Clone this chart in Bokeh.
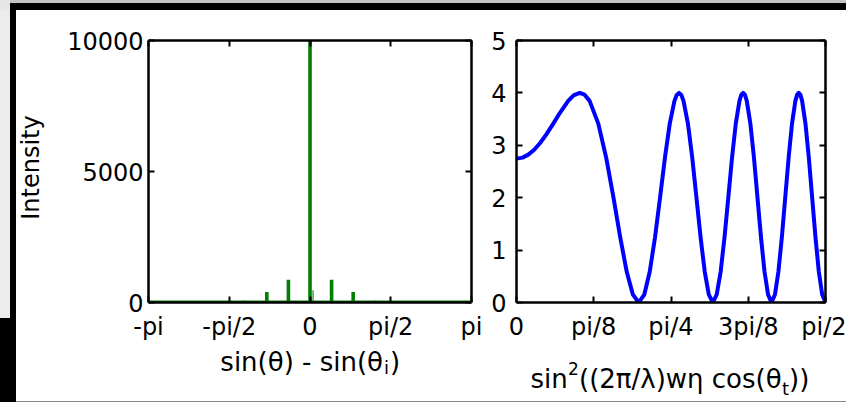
import numpy as np
from bokeh.plotting import figure
from bokeh.models import Range1d, FixedTicker, LinearAxis, Spacer
from bokeh.layouts import row, column
from bokeh.core.properties import value
from bokeh.embed import file_html
from bokeh.resources import INLINE

# ---------------- data: left panel (intensity peaks) ----------------
peak_x = [-1.27, -0.84, -0.42, 0.0, 0.42, 0.84, 1.27]
peak_h = [70, 400, 870, 10000, 870, 400, 70]
shoulder_x = [0.06]
shoulder_h = [470]

left_xticks = [-np.pi, -np.pi / 2, 0.0, np.pi / 2, np.pi]
left_xlabels = ["-pi", "-pi/2", "0", "pi/2", "pi"]
left_yticks = [0, 5000, 10000]

# ---------------- data: right panel (curve) ----------------
curve_x = [0.0, 0.0307, 0.06, 0.09, 0.12, 0.15, 0.1870, 0.22, 0.2629, 0.29,
           0.3217, 0.345, 0.3716, 0.4158, 0.4559, 0.4930, 0.5277, 0.5604, 0.5915, 0.6212,
           0.6498, 0.6773, 0.7039, 0.7297, 0.7547, 0.7791, 0.8030, 0.8146, 0.8262,
           0.8376, 0.8490, 0.8714, 0.8933, 0.9149, 0.9361, 0.9570, 0.9776, 0.9978,
           1.0179, 1.0377, 1.0572, 1.0766, 1.0957, 1.1147, 1.1335, 1.1428, 1.1521,
           1.1614, 1.1706, 1.1889, 1.2071, 1.2251, 1.2431, 1.2609, 1.2787, 1.2963,
           1.3139, 1.3313, 1.3487, 1.3661, 1.3834, 1.4006, 1.4177, 1.4263, 1.4348,
           1.4434, 1.4519, 1.4690, 1.4860, 1.5030, 1.5200, 1.5369, 1.5539, 1.5708]
curve_y = [2.746, 2.765, 2.822, 2.916, 3.044, 3.198, 3.414, 3.616, 3.848, 3.951,
           4.0, 3.969, 3.848, 3.414, 2.765, 2.0, 1.235, 0.586, 0.152, 0.0,
           0.152, 0.586, 1.235, 2.0, 2.765, 3.414, 3.848, 3.962, 4.0,
           3.962, 3.848, 3.414, 2.765, 2.0, 1.235, 0.586, 0.152, 0.0,
           0.152, 0.586, 1.235, 2.0, 2.765, 3.414, 3.848, 3.962, 4.0,
           3.962, 3.848, 3.414, 2.765, 2.0, 1.235, 0.586, 0.152, 0.0,
           0.152, 0.586, 1.235, 2.0, 2.765, 3.414, 3.848, 3.962, 4.0,
           3.962, 3.848, 3.414, 2.765, 2.0, 1.235, 0.586, 0.152, 0.0]

right_xticks = [0.0, np.pi / 8, np.pi / 4, 3 * np.pi / 8, np.pi / 2]
right_xlabels = ["0", "pi/8", "pi/4", "3pi/8", "pi/2"]
right_yticks = [0, 1, 2, 3, 4, 5]

y_title = "Intensity"

FONT = "DejaVu Sans"
FS = "24px"
TS = "26px"
GREEN = "#008000"
BLUE = "#0000ff"
PLOT_H = 332
LF_H = 392 - 2 - PLOT_H


def style_axis(ax, ticks, labels=None, show=True, standoff=10):
    ax.ticker = FixedTicker(ticks=list(ticks))
    if labels is not None:
        ax.major_label_overrides = {float(t): l for t, l in zip(ticks, labels)}
    ax.axis_line_color = "black"
    ax.axis_line_width = 2.5
    ax.major_tick_line_color = "black"
    ax.major_tick_line_width = 2
    ax.major_tick_in = 6
    ax.major_tick_out = 0
    ax.minor_tick_line_color = None
    ax.major_label_text_font = FONT
    if show:
        ax.major_label_text_color = "black"
        ax.major_label_text_font_size = FS
        ax.major_label_standoff = standoff
    else:
        ax.major_label_text_color = None
        ax.major_label_text_font_size = "1px"
        ax.major_label_standoff = 0


def make_fig(frame_w, border_l, border_r, xr, yr, xticks, xlabels, yticks, ystandoff):
    p = figure(frame_width=frame_w, frame_height=262,
               x_range=Range1d(*xr), y_range=Range1d(*yr),
               min_border_left=border_l, min_border_right=border_r,
               min_border_top=30, min_border_bottom=PLOT_H - 30 - 262,
               output_backend="svg", toolbar_location=None, title=None,
               background_fill_color="white", border_fill_color="white")
    p.grid.visible = False
    p.outline_line_color = None
    style_axis(p.xaxis[0], xticks, xlabels, True, 10)
    style_axis(p.yaxis[0], yticks, None, True, ystandoff)
    top = LinearAxis()
    style_axis(top, xticks, None, False)
    right = LinearAxis()
    style_axis(right, yticks, None, False)
    p.add_layout(top, "above")
    p.add_layout(right, "right")
    return p


def text_fig(w, h):
    f = figure(frame_width=w, frame_height=h, x_range=Range1d(0, w), y_range=Range1d(0, h),
               x_axis_type=None, y_axis_type=None, title=None,
               min_border_left=0, min_border_right=0, min_border_top=0, min_border_bottom=0,
               output_backend="svg", toolbar_location=None, outline_line_color=None,
               background_fill_color="white", border_fill_color="white")
    f.grid.visible = False
    return f


def txt(f, x, y, s, size=TS, align="left", baseline="alphabetic", angle=0.0):
    f.text(x=[x], y=[y], text=[s], text_font=value(FONT), text_font_size=value(size),
           text_color="black", text_align=align, text_baseline=baseline, angle=angle)


# ---------------- y title column ----------------
yf = text_fig(30, PLOT_H)
txt(yf, 14, 205, y_title, size="24px", align="center", baseline="middle", angle=np.pi / 2)

# ---------------- left figure ----------------
p1 = make_fig(323, 102, 13, (left_xticks[0], left_xticks[-1]), (left_yticks[0], left_yticks[-1]),
              left_xticks, left_xlabels, left_yticks, 5)
p1.line(x=[left_xticks[0], left_xticks[-1]], y=[0, 0], line_color=GREEN, line_width=4)
p1.vbar(x=peak_x, top=peak_h, bottom=0, width=0.07, fill_color=GREEN, line_color=None)
p1.vbar(x=shoulder_x, top=shoulder_h, bottom=0, width=0.035, fill_color=GREEN,
        fill_alpha=0.6, line_color=None)

# ---------------- right figure ----------------
p2 = make_fig(309, 32, 21, (right_xticks[0], right_xticks[-1]), (right_yticks[0], right_yticks[-1]),
              right_xticks, right_xlabels, right_yticks, 10)
p2.line(x=curve_x, y=curve_y, line_color=BLUE, line_width=4, line_join="round", line_cap="round")

# ---------------- x-axis titles (with sub/superscripts) ----------------
lf = text_fig(830, LF_H)
# left: sin(θ) - sin(θ_i)
txt(lf, 366.5, 40, "sin(θ) - sin(θ", align="right")
txt(lf, 367.5, 34, "i", size="18px")
txt(lf, 373.5, 40, ")")
# right: sin^2((2π/λ)wη cos(θ_t))
txt(lf, 514, 23, "sin")
txt(lf, 551.5, 33, "2", size="17px")
txt(lf, 562.5, 23, "((2π/λ)wη cos(θ")
txt(lf, 765.5, 13, "t", size="18px")
txt(lf, 772.5, 23, "))")

# ---------------- frame decoration (screen-capture border) ----------------
top_bar = Spacer(width=846, height=10, styles={
    "background": "linear-gradient(to right, #e6e6e6 10px, transparent 10px), "
                  "linear-gradient(to bottom, #c4c4c4 3px, #000000 3px)"})
left_bar = Spacer(width=16, height=392, styles={
    "background": "linear-gradient(to bottom, transparent 308px, #000000 308px), "
                  "linear-gradient(to right, #ececec 10px, #000000 10px)"})
bottom_line = Spacer(width=830, height=2, styles={"background-color": "#8a8a8a"})

layout = column(top_bar, row(left_bar, column(row(yf, p1, p2), lf, bottom_line)))

open("out.html", "w").write(file_html(layout, INLINE))
